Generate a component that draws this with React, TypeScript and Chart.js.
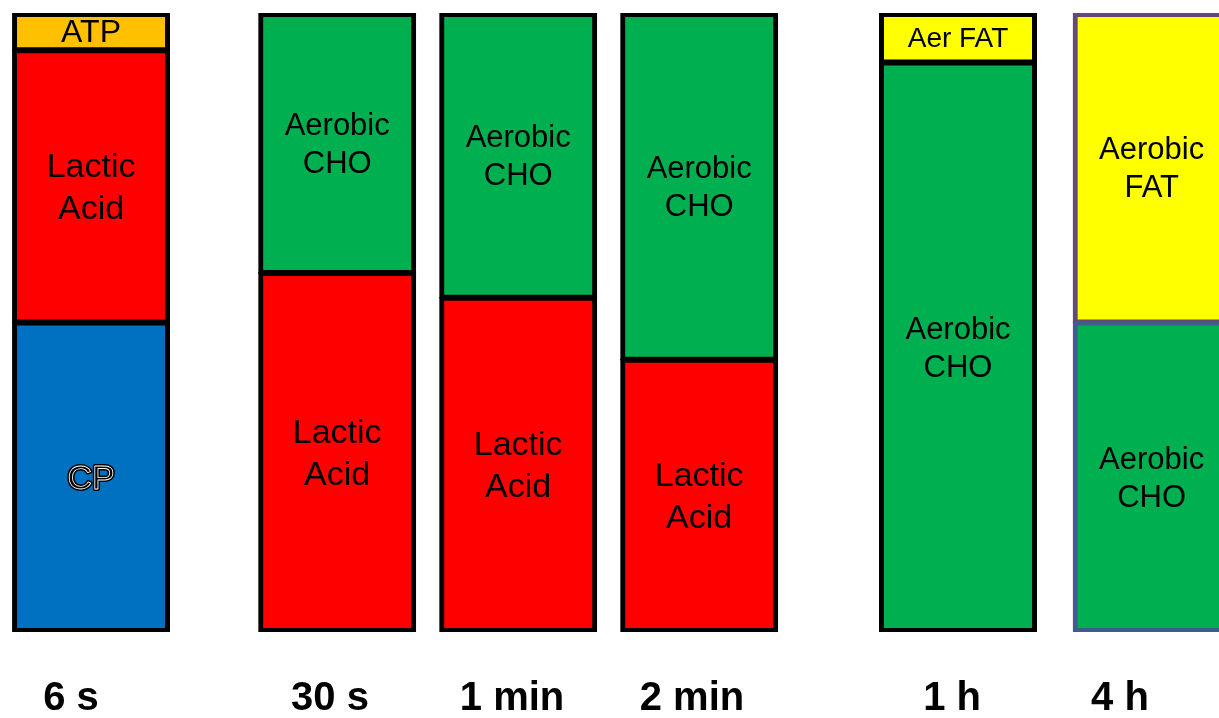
import React, { useEffect, useRef } from 'react';
import { Chart, registerables } from 'chart.js';

Chart.register(...registerables);

// ---- data ----
const categories = ['6 s', '30 s', '1 min', '2 min', '1 h', '4 h'];
const cpValues = [50, 0, 0, 0, 0, 0];
const lacticValues = [44, 58, 54, 44, 0, 0];
const choValues = [0, 42, 46, 56, 92, 50];
const fatValues = [0, 0, 0, 0, 8, 50];
const atpValues = [6, 0, 0, 0, 0, 0];

const cpText = ['CP'];
const lacticText = ['Lactic', 'Acid'];
const choText = ['Aerobic', 'CHO'];
const fatText = [[], [], [], [], ['Aer FAT'], ['Aerobic', 'FAT']];
const atpText = ['ATP'];

// ---- layout (slot units along the x axis) ----
const barSlots = [0, 1.36, 2.36, 3.36, 4.79, 5.86];
const labelSlots = [-0.111, 1.32, 2.326, 3.32, 4.757, 5.685];
const X_MIN = -0.503;
const X_MAX = 6.232;

const FONT = '"Liberation Sans", Arial, sans-serif';

type SeriesDef = {
  name: string;
  values: number[];
  color: string;
  text: (i: number) => string[];
  size: number;
  lineH: number;
  outline?: boolean;
};

const series: SeriesDef[] = [
  { name: 'CP', values: cpValues, color: '#0070C0', text: () => cpText, size: 34, lineH: 40, outline: true },
  { name: 'Lactic Acid', values: lacticValues, color: '#FF0000', text: () => lacticText, size: 34, lineH: 42 },
  { name: 'Aerobic CHO', values: choValues, color: '#00B050', text: () => choText, size: 31, lineH: 38 },
  { name: 'Aerobic FAT', values: fatValues, color: '#FFFF00', text: (i) => fatText[i], size: 31, lineH: 38 },
  { name: 'ATP', values: atpValues, color: '#FFC000', text: () => atpText, size: 32, lineH: 38 },
];

const specialBorder: Record<string, string> = {
  'Aerobic FAT': '#604A7B',
  'Aerobic CHO': '#3F5C8E',
};

export default function App() {
  const ref = useRef<HTMLCanvasElement>(null);

  useEffect(() => {
    if (!ref.current) return;

    const hasAbove = (di: number, i: number) =>
      series.some((s, k) => k > di && s.values[i] > 0);
    const hasBelow = (di: number, i: number) =>
      series.some((s, k) => k < di && s.values[i] > 0);

    const labelPlugin = {
      id: 'segLabels',
      afterDatasetsDraw(chart: any) {
        const ctx = chart.ctx;
        series.forEach((s, di) => {
          const meta = chart.getDatasetMeta(di);
          meta.data.forEach((el: any, i: number) => {
            if (!(s.values[i] > 0)) return;
            const lines = s.text(i);
            if (!lines || !lines.length) return;
            const { x, y, base } = el.getProps(['x', 'y', 'base'], true);
            let size = s.size;
            if (s.name === 'Aerobic FAT' && lines.length === 1) size = 28;
            const cy = (y + base) / 2 + 2;
            ctx.save();
            ctx.font = `${size}px ${FONT}`;
            ctx.textAlign = 'center';
            ctx.textBaseline = 'middle';
            const startY = cy - ((lines.length - 1) * s.lineH) / 2;
            lines.forEach((ln, j) => {
              const ly = startY + j * s.lineH;
              if (s.outline) {
                ctx.lineJoin = 'round';
                ctx.strokeStyle = '#000';
                ctx.lineWidth = 4;
                ctx.strokeText(ln, x, ly);
                ctx.fillStyle = '#000';
                ctx.fillText(ln, x, ly);
                ctx.strokeStyle = '#fff';
                ctx.lineWidth = 0.8;
                ctx.strokeText(ln, x, ly);
              } else {
                ctx.fillStyle = '#000';
                ctx.fillText(ln, x, ly);
              }
            });
            ctx.restore();
          });
        });
      },
    };

    const chart = new Chart(ref.current, {
      type: 'bar',
      data: {
        datasets: series.map((s, di) => ({
          label: s.name,
          data: s.values.map((v, i) => ({ x: barSlots[i], y: v > 0 ? v : null })),
          backgroundColor: s.color,
          borderColor: (c: any) =>
            c.dataIndex === 5 && specialBorder[s.name] ? specialBorder[s.name] : '#000000',
          borderWidth: (c: any) => {
            const i = c.dataIndex;
            return {
              left: 5,
              right: 5,
              top: hasAbove(di, i) ? 4 : 5,
              bottom: hasBelow(di, i) ? 4 : 5,
            };
          },
          borderSkipped: false,
          inflateAmount: 1,
          barThickness: 156,
        })),
      },
      options: {
        responsive: false,
        animation: false,
        events: [],
        layout: { padding: { top: 13, left: 0, right: 0, bottom: 0 } },
        plugins: {
          legend: { display: false },
          tooltip: { enabled: false },
          title: { display: false },
        },
        scales: {
          x: {
            type: 'linear',
            stacked: true,
            offset: false,
            min: X_MIN,
            max: X_MAX,
            grid: { display: false, drawTicks: false, offset: false },
            border: { display: false },
            afterBuildTicks: (scale: any) => {
              scale.ticks = labelSlots.map((v) => ({ value: v }));
            },
            afterFit: (scale: any) => {
              scale.height = 86;
            },
            ticks: {
              autoSkip: false,
              maxRotation: 0,
              minRotation: 0,
              padding: 43,
              color: '#000',
              font: { family: FONT, size: 40, weight: 'bold' },
              callback: (_v: any, index: number) => categories[index],
            },
          },
          y: {
            stacked: true,
            display: false,
            min: 0,
            max: 100,
          },
        },
      },
      plugins: [labelPlugin],
    } as any);

    return () => chart.destroy();
  }, []);

  return (
    <div style={{ position: 'absolute', left: 0, top: 0, width: 1219, height: 718, background: '#fff' }}>
      <canvas ref={ref} width={1219} height={718} style={{ display: 'block' }} />
    </div>
  );
}
